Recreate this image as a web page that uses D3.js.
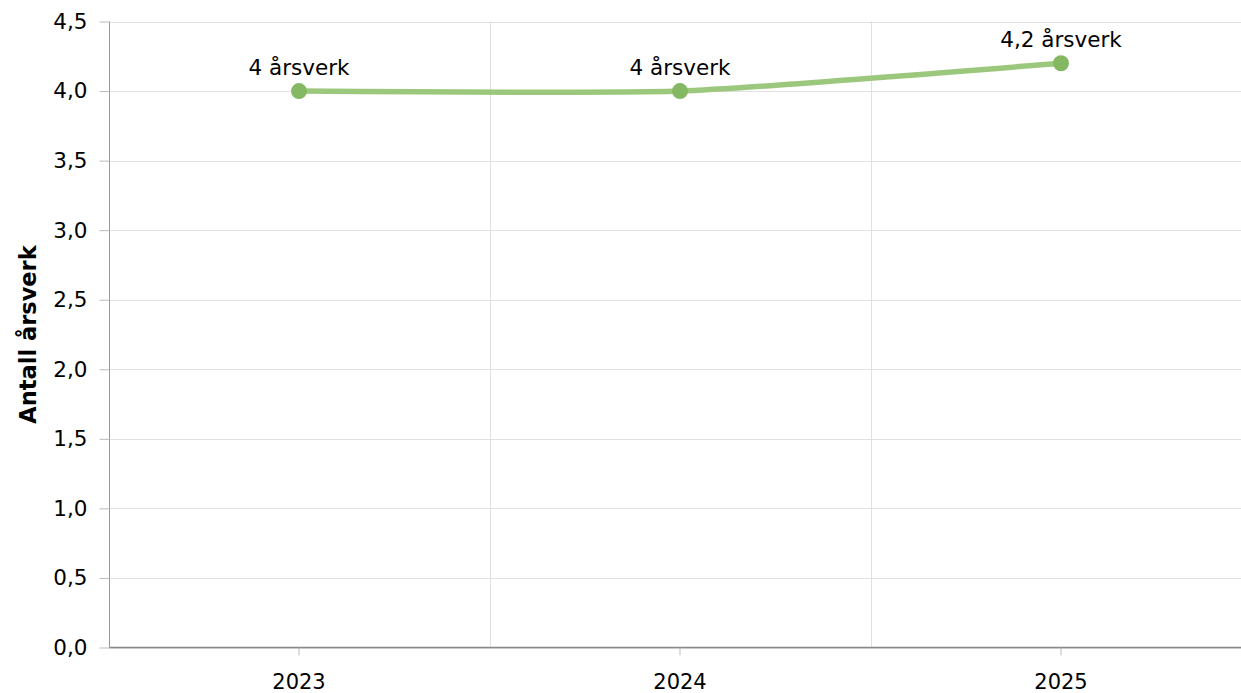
<!DOCTYPE html>
<html><head><meta charset="utf-8">
<script src="https://cdn.jsdelivr.net/npm/d3@7"></script>
<style>body{margin:0;background:#fff}svg{display:block;font-family:"DejaVu Sans",Verdana,sans-serif}</style>
</head><body>
<svg id="c" width="1241" height="693"></svg>
<script>
const years = ["2023", "2024", "2025"];
const values = [4, 4, 4.2];
const labels = ["4 årsverk", "4 årsverk", "4,2 årsverk"];
const yTicks = [0, 0.5, 1, 1.5, 2, 2.5, 3, 3.5, 4, 4.5];
const yTitle = "Antall årsverk";

const svg = d3.select("#c");
const L = 109.5, R = 1241, T = 21.5, B = 647.5;
const x = d3.scaleBand().domain(years).range([108.5, 1251.5]);
const y = d3.scaleLinear().domain([0, 4.5]).range([B, T]);
const fmt = d => d.toFixed(1).replace(".", ",");

svg.append("g").selectAll("line").data(yTicks).join("line")
  .attr("x1", L).attr("x2", R).attr("y1", d => Math.round(y(d)) + 0.5).attr("y2", d => Math.round(y(d)) + 0.5)
  .attr("stroke", "#e0e0e0").attr("stroke-width", 1);
svg.append("g").selectAll("line").data(years.slice(1)).join("line")
  .attr("x1", d => Math.round(x(d)) + 0.5).attr("x2", d => Math.round(x(d)) + 0.5)
  .attr("y1", T).attr("y2", B).attr("stroke", "#e0e0e0");

const ya = svg.append("g").attr("transform", `translate(${L},0)`)
  .call(d3.axisLeft(y).tickValues(yTicks).tickFormat(fmt).tickSize(10).tickPadding(12));
ya.select(".domain").attr("stroke", "#999").attr("d", `M0,${T}V${B}`);
ya.selectAll(".tick line").attr("stroke", "#bbb");
ya.selectAll("text").attr("font-size", 21.5).attr("fill", "#000").attr("font-family", "DejaVu Sans");

const xa = svg.append("g").attr("transform", `translate(0,${B})`)
  .call(d3.axisBottom(x).tickSize(8).tickPadding(19));
xa.select(".domain").attr("stroke", "#888").attr("stroke-width", 1.5).attr("d", `M${L},0H${R}`);
xa.selectAll(".tick line").attr("stroke", "#bbb");
xa.selectAll("text").attr("font-size", 21).attr("fill", "#000").attr("font-family", "DejaVu Sans");

svg.append("text").attr("transform", `translate(36,${(T + B) / 2 + 0}) rotate(-90)`)
  .attr("text-anchor", "middle").attr("font-size", 22.5).attr("font-weight", "bold").text(yTitle);

const cx = d => x(d) + x.bandwidth() / 2;
const pts = years.map((d, i) => [cx(d), y(values[i])]);

svg.append("path").attr("d", d3.line().curve(d3.curveCardinal.tension(0.5))(pts))
  .attr("fill", "none").attr("stroke", "#9cc87e").attr("stroke-width", 5.5).attr("stroke-linecap", "round");

svg.append("g").selectAll("circle").data(pts).join("circle")
  .attr("cx", d => d[0]).attr("cy", d => d[1]).attr("r", 8).attr("fill", "#84b862");

svg.append("g").selectAll("text").data(years).join("text")
  .attr("x", d => cx(d)).attr("y", (d, i) => y(values[i]) - 16)
  .attr("text-anchor", "middle").attr("font-size", 21.5).attr("fill", "#000")
  .text((d, i) => labels[i]);
</script>
</body></html>
